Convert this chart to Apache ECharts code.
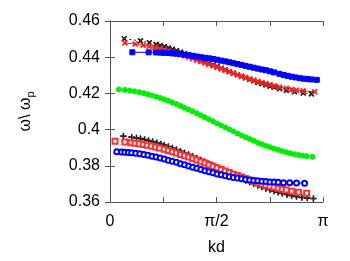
<!DOCTYPE html>
<html><head><meta charset="utf-8">
<script src="https://cdn.jsdelivr.net/npm/echarts@6/dist/echarts.min.js"></script>
<style>html,body{margin:0;padding:0;background:#fff}#c{width:350px;height:261px}</style>
</head><body><div id="c"></div>
<script>
// kd (rad), omega/omega_p
const blackCross = [[0.21,0.4502],[0.45,0.4490],[0.58,0.4480],[0.68,0.4471],[0.74,0.4464],[0.80,0.4458],[0.86,0.4451],[0.92,0.4444],[0.98,0.4436],[1.04,0.4428],[1.10,0.4420],[1.16,0.4412],[1.22,0.4403],[1.28,0.4394],[1.34,0.4385],[1.40,0.4376],[1.46,0.4367],[1.52,0.4358],[1.58,0.4349],[1.64,0.4339],[1.70,0.4330],[1.76,0.4321],[1.82,0.4312],[1.88,0.4303],[1.94,0.4294],[2.00,0.4286],[2.06,0.4277],[2.12,0.4269],[2.18,0.4261],[2.24,0.4254],[2.30,0.4247],[2.36,0.4240],[2.42,0.4234],[2.50,0.4226],[2.60,0.4217],[2.72,0.4209],[2.85,0.4202],[2.97,0.4197]];
const redCross = [[0.22,0.4479],[0.37,0.4473],[0.49,0.4466],[0.58,0.4460],[0.66,0.4453],[0.73,0.4447],[0.80,0.4440],[0.86,0.4434],[0.92,0.4428],[0.98,0.4421],[1.04,0.4414],[1.10,0.4407],[1.16,0.4400],[1.22,0.4392],[1.28,0.4384],[1.34,0.4376],[1.40,0.4368],[1.46,0.4360],[1.52,0.4352],[1.58,0.4344],[1.64,0.4336],[1.70,0.4327],[1.76,0.4319],[1.82,0.4311],[1.88,0.4303],[1.94,0.4295],[2.00,0.4288],[2.06,0.4281],[2.12,0.4273],[2.18,0.4267],[2.24,0.4260],[2.30,0.4254],[2.36,0.4248],[2.42,0.4242],[2.50,0.4235],[2.60,0.4228],[2.68,0.4222],[2.75,0.4218],[2.85,0.4214],[3.02,0.4209]];
const blueSquare = [[0.33,0.4427],[0.57,0.4427],[0.68,0.4426],[0.75,0.4425],[0.80,0.4424],[0.86,0.4423],[0.92,0.4421],[0.98,0.4419],[1.04,0.4417],[1.10,0.4414],[1.16,0.4411],[1.22,0.4408],[1.28,0.4404],[1.34,0.4400],[1.40,0.4397],[1.46,0.4394],[1.52,0.4390],[1.58,0.4386],[1.64,0.4381],[1.70,0.4377],[1.76,0.4372],[1.82,0.4367],[1.88,0.4362],[1.94,0.4357],[2.00,0.4352],[2.06,0.4347],[2.12,0.4342],[2.18,0.4337],[2.24,0.4332],[2.30,0.4328],[2.36,0.4322],[2.42,0.4316],[2.50,0.4308],[2.56,0.4302],[2.62,0.4297],[2.68,0.4292],[2.74,0.4288],[2.80,0.4284],[2.86,0.4281],[2.92,0.4279],[2.97,0.4277],[3.05,0.4275]];
const greenCircle = [[0.13,0.4222],[0.22,0.4219],[0.29,0.4216],[0.36,0.4212],[0.43,0.4207],[0.50,0.4201],[0.56,0.4195],[0.62,0.4189],[0.68,0.4182],[0.74,0.4175],[0.80,0.4167],[0.86,0.4159],[0.92,0.4150],[0.98,0.4141],[1.04,0.4131],[1.10,0.4121],[1.16,0.4111],[1.22,0.4101],[1.28,0.4090],[1.34,0.4079],[1.40,0.4068],[1.46,0.4057],[1.52,0.4046],[1.58,0.4034],[1.64,0.4023],[1.70,0.4012],[1.76,0.4001],[1.82,0.3990],[1.88,0.3979],[1.94,0.3968],[2.00,0.3958],[2.06,0.3948],[2.12,0.3938],[2.18,0.3928],[2.24,0.3919],[2.30,0.3911],[2.36,0.3903],[2.42,0.3895],[2.48,0.3888],[2.54,0.3881],[2.60,0.3875],[2.66,0.3869],[2.72,0.3864],[2.78,0.3860],[2.84,0.3856],[2.90,0.3853],[2.985,0.3850]];
const blackPlus = [[0.197,0.3964],[0.32,0.3958],[0.39,0.3954],[0.45,0.3950],[0.51,0.3945],[0.57,0.3939],[0.63,0.3933],[0.69,0.3927],[0.75,0.3920],[0.80,0.3914],[0.86,0.3906],[0.92,0.3898],[0.98,0.3889],[1.04,0.3881],[1.10,0.3871],[1.16,0.3862],[1.22,0.3852],[1.28,0.3842],[1.34,0.3832],[1.40,0.3822],[1.46,0.3811],[1.52,0.3801],[1.58,0.3790],[1.64,0.3780],[1.70,0.3769],[1.76,0.3759],[1.82,0.3749],[1.88,0.3739],[1.94,0.3729],[2.00,0.3719],[2.06,0.3710],[2.12,0.3701],[2.18,0.3692],[2.24,0.3683],[2.30,0.3675],[2.36,0.3668],[2.42,0.3661],[2.48,0.3654],[2.54,0.3648],[2.61,0.3641],[2.68,0.3635],[2.75,0.3630],[2.83,0.3625],[2.91,0.3622],[3.00,0.3619]];
const redSquare = [[0.074,0.3935],[0.22,0.3932],[0.31,0.3928],[0.37,0.3925],[0.43,0.3922],[0.49,0.3918],[0.55,0.3914],[0.61,0.3909],[0.67,0.3904],[0.73,0.3898],[0.80,0.3891],[0.86,0.3885],[0.92,0.3878],[0.98,0.3871],[1.04,0.3863],[1.10,0.3856],[1.16,0.3848],[1.22,0.3840],[1.28,0.3832],[1.34,0.3823],[1.40,0.3815],[1.46,0.3806],[1.52,0.3797],[1.58,0.3789],[1.64,0.3780],[1.70,0.3771],[1.76,0.3763],[1.82,0.3754],[1.88,0.3746],[1.94,0.3738],[2.00,0.3730],[2.06,0.3722],[2.12,0.3714],[2.18,0.3707],[2.24,0.3700],[2.30,0.3693],[2.36,0.3687],[2.42,0.3681],[2.48,0.3676],[2.54,0.3670],[2.60,0.3666],[2.68,0.3660],[2.78,0.3654],[2.90,0.3649]];
const blueCircle = [[0.10,0.3877],[0.17,0.3876],[0.22,0.3875],[0.27,0.3874],[0.32,0.3872],[0.38,0.3869],[0.44,0.3866],[0.50,0.3862],[0.56,0.3858],[0.62,0.3853],[0.68,0.3848],[0.74,0.3843],[0.80,0.3837],[0.86,0.3831],[0.92,0.3825],[0.98,0.3819],[1.04,0.3812],[1.10,0.3806],[1.16,0.3799],[1.22,0.3792],[1.28,0.3786],[1.34,0.3779],[1.40,0.3773],[1.46,0.3767],[1.52,0.3761],[1.58,0.3755],[1.64,0.3750],[1.70,0.3745],[1.76,0.3740],[1.82,0.3736],[1.88,0.3732],[1.94,0.3728],[2.00,0.3725],[2.06,0.3722],[2.12,0.3719],[2.18,0.3717],[2.24,0.3715],[2.30,0.3713],[2.36,0.3711],[2.42,0.3710],[2.48,0.3709],[2.56,0.3707],[2.65,0.3706],[2.75,0.3705],[2.87,0.3704]];

const xTickLabels = {0:'0', 2:'π/2', 4:'π'};
const yMin = 0.36, yMax = 0.46, yStep = 0.02;

const PLUS = 'path://M4.4,0H5.6V4.4H10V5.6H5.6V10H4.4V5.6H0V4.4H4.4Z';
const FONT = 'Liberation Sans';

function ser(data, color, symbol, size, lineType, extra) {
  return Object.assign({
    type: 'line', data: data, symbol: symbol, symbolSize: size,
    lineStyle: {color: color, width: 1, type: lineType},
    itemStyle: {color: color, borderColor: color, borderWidth: 1},
    showAllSymbol: true, animation: false, silent: true
  }, extra || {});
}

const chart = echarts.init(document.getElementById('c'), null, {renderer: 'canvas'});
const axisCommon = {
  axisLine: {show: true, lineStyle: {color: '#555', width: 1}},
  axisTick: {show: true, inside: true, length: 5, lineStyle: {color: '#555'}},
  splitLine: {show: false}
};
chart.setOption({
  animation: false,
  textStyle: {fontFamily: FONT},
  grid: {left: 110, right: 27, top: 21, bottom: 59},
  xAxis: [
    Object.assign({type: 'value', min: 0, max: Math.PI, interval: Math.PI/4, position: 'bottom',
      name: 'kd', nameLocation: 'middle', nameGap: 38,
      nameTextStyle: {fontSize: 16, color: '#000', fontFamily: FONT},
      axisLabel: {fontSize: 16, color: '#000', margin: 12, fontFamily: FONT,
        formatter: function(v){ const i = Math.round(v/(Math.PI/4)); return xTickLabels[i] || ''; }}}, axisCommon),
    Object.assign({type: 'value', min: 0, max: Math.PI, interval: Math.PI/4, position: 'top',
      axisLabel: {show: false}}, axisCommon)
  ],
  yAxis: [
    Object.assign({type: 'value', min: yMin, max: yMax, interval: yStep, position: 'left',
      name: '{a|ω\\ ω}{b|p}', nameLocation: 'middle', nameGap: 74, nameRotate: 90,
      nameTextStyle: {color: '#000', fontFamily: FONT, rich: {a: {fontSize: 16, fontFamily: FONT, color:'#000'}, b: {fontSize: 11, fontFamily: FONT, color:'#000', padding: [9,0,0,0]}}},
      axisLabel: {fontSize: 16, color: '#000', margin: 10, fontFamily: FONT,
        formatter: function(v){ return String(+v.toFixed(2)); }}}, axisCommon),
    Object.assign({type: 'value', min: yMin, max: yMax, interval: yStep, position: 'right',
      axisLabel: {show: false}}, axisCommon)
  ],
  series: [
    ser(blackCross, '#222222', PLUS, 6, [2,3], {symbolRotate: 45}),
    ser(redCross, '#ff2020', PLUS, 6, 'solid', {symbolRotate: 45}),
    ser(blueSquare, '#0000ff', 'rect', 5, 'solid'),
    ser(greenCircle, '#00ee00', 'circle', 5, 'solid', {lineStyle: {width: 0}}),
    ser(blackPlus, '#222222', PLUS, 6, [2,3]),
    ser(redSquare, '#ff3030', 'emptyRect', 5, [3,3]),
    ser(blueCircle, '#0000ff', 'emptyCircle', 5, [3,3])
  ]
});
</script></body></html>
